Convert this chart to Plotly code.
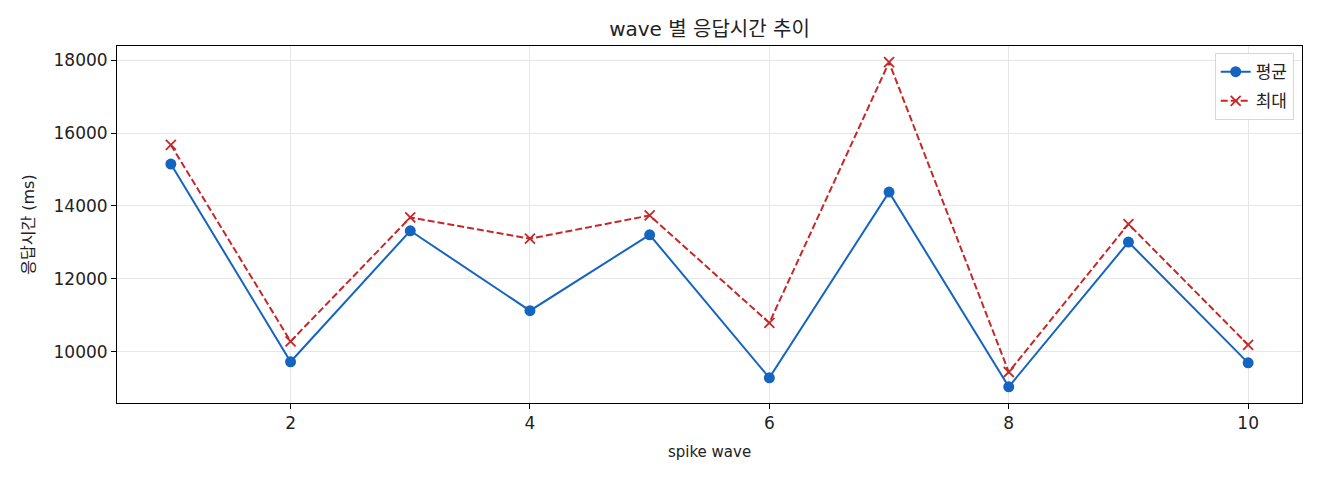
import plotly.graph_objects as go

waves = [1, 2, 3, 4, 5, 6, 7, 8, 9, 10]
mean_ms = [15150, 9730, 13320, 11130, 13210, 9290, 14380, 9045, 13010, 9700]
max_ms = [15675, 10290, 13685, 13105, 13740, 10795, 17940, 9450, 13505, 10195]

x_ticks = [2, 4, 6, 8, 10]
y_ticks = [10000, 12000, 14000, 16000, 18000]
y_tick_labels = ["10000", "12000", "14000", "16000", "18000"]

FONT = "DejaVu Sans, Noto Sans CJK KR"
BLUE = "#1565C0"
RED = "#C62828"

# page body has an 8px margin: size figure so it ends at the window edge
W, H = 1312, 472
L, R, T, B = 109, 18, 38, 77

fig = go.Figure()
fig.add_trace(go.Scatter(
    x=waves, y=mean_ms, name="평균", mode="lines+markers", legendgroup="a",
    line=dict(color=BLUE, width=2),
    marker=dict(symbol="circle", size=11, color=BLUE),
))
fig.add_trace(go.Scatter(
    x=waves, y=max_ms, name="최대", mode="lines+markers", legendgroup="b",
    line=dict(color=RED, width=2, dash="7px,3px"),
    marker=dict(symbol="x-thin", size=10, color=RED, line=dict(color=RED, width=1.8)),
))

xmin, xmax = min(waves), max(waves)
xm = (xmax - xmin) * 0.05
allv = mean_ms + max_ms
ymin, ymax = min(allv), max(allv)
ym = (ymax - ymin) * 0.05

axis_common = dict(
    showline=True, linecolor="black", linewidth=1, mirror=True,
    ticks="outside", ticklen=5, tickwidth=1, tickcolor="black",
    showgrid=True, gridcolor="#e6e6e6", gridwidth=1, zeroline=False,
    tickfont=dict(family=FONT, size=17, color="#222"),
)

fig.update_layout(
    width=W, height=H,
    margin=dict(l=L, r=R, t=T, b=B),
    paper_bgcolor="white", plot_bgcolor="white",
    font=dict(family=FONT, color="#222"),
    title=dict(text="wave 별 응답시간 추이", x=(L + (W - L - R) / 2) / W, xanchor="center",
               y=1 - 21 / H, yanchor="middle",
               font=dict(family=FONT, size=20, color="#222")),
    xaxis=dict(range=[xmin - xm, xmax + xm], tickvals=x_ticks,
               title=dict(text="spike wave", font=dict(family=FONT, size=15), standoff=14),
               **axis_common),
    yaxis=dict(range=[ymin - ym, ymax + ym], tickvals=y_ticks, ticktext=y_tick_labels,
               title=dict(text="응답시간 (ms)", font=dict(family=FONT, size=16), standoff=14),
               **axis_common),
    legend=dict(x=0.993, y=0.98, xanchor="right", yanchor="top",
                bordercolor="#d6d6d6", borderwidth=1, bgcolor="rgba(255,255,255,0.85)",
                font=dict(family=FONT, size=17, color="#222"),
                tracegroupgap=4),
    showlegend=True,
)

fig.write_html("out.html")
